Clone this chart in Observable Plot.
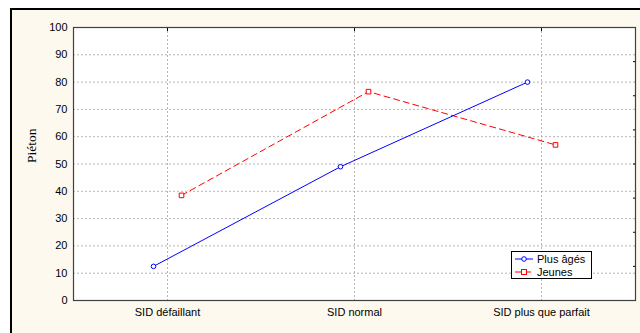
<!DOCTYPE html>
<html>
<head>
<meta charset="utf-8">
<script src="https://cdn.jsdelivr.net/npm/d3@7"></script>
<script src="https://cdn.jsdelivr.net/npm/@observablehq/plot@0.6"></script>
<style>
  html, body { margin: 0; padding: 0; background: #fff; overflow: hidden; }
  #wrap { position: relative; width: 640px; height: 333px; overflow: hidden; }
  #bg { position: absolute; left: 10px; top: 8px; width: 700px; height: 400px;
        border-top: 2px solid #000; border-left: 2px solid #000; background: #fdf9ee; }
  #chart { position: absolute; left: 0; top: 0; }
  #legend { position: absolute; left: 511px; top: 251px; width: 81px; height: 28px;
            border: 1px solid #000; background: #fff; font: 11px "Liberation Sans", Arial, sans-serif;
            box-sizing: border-box; padding: 1px 0 0 3px; }
  #legend div { height: 12.5px; line-height: 12.5px; display: flex; align-items: center; white-space: nowrap; }
  #legend svg { margin-right: 4px; }
</style>
</head>
<body>
<div id="wrap">
  <div id="bg"></div>
  <div id="chart"></div>
  <div id="legend"></div>
</div>
<script>
const categories = ["SID défaillant", "SID normal", "SID plus que parfait"];
const plusAges = [12.5, 49, 80];
const jeunes = [38.5, 76.5, 57];
const seriesNames = ["Plus âgés", "Jeunes"];
const seriesColors = ["#0000ff", "#ff0000"];
const yTicks = [0, 10, 20, 30, 40, 50, 60, 70, 80, 90, 100];
const rightTicks = [12.5, 25, 37.5, 50, 62.5, 75, 87.5];
const yLabel = "Piéton";

const rowsA = categories.map((c, i) => ({cat: c, v: plusAges[i]}));
const rowsJ = categories.map((c, i) => ({cat: c, v: jeunes[i]}));

const chart = Plot.plot({
  width: 640,
  height: 333,
  marginLeft: 73,
  marginTop: 27,
  marginRight: 5,
  marginBottom: 33,
  style: {background: "transparent", fontFamily: "'Liberation Sans', Arial, sans-serif", fontSize: "11px", color: "#000"},
  x: {type: "point", domain: categories, padding: 0.5},
  y: {domain: [0, 100]},
  marks: [
    Plot.frame({fill: "white", stroke: null}),
    Plot.gridY(yTicks.filter(d => d > 0 && d < 100), {stroke: "#b4b4b4", strokeOpacity: 1, strokeDasharray: "2,2"}),
    Plot.gridX(categories, {stroke: "#b4b4b4", strokeOpacity: 1, strokeDasharray: "2,2"}),
    Plot.axisY(yTicks, {tickSize: 0, tickPadding: 6, label: null}),
    Plot.axisY(rightTicks, {anchor: "right", tickSize: -3, tickFormat: () => "", label: null, stroke: "#000"}),
    Plot.axisX({tickSize: 0, tickPadding: 8, label: null}),
    Plot.axisX(categories, {anchor: "top", tickSize: -3, tickFormat: () => "", label: null, stroke: "#000"}),
    Plot.text([yLabel], {frameAnchor: "left", rotate: -90, dx: -41.5, dy: -1, fontFamily: "'Liberation Serif', 'Times New Roman', serif", fontSize: 13.5, fontWeight: "normal"}),
    Plot.line(rowsJ, {x: "cat", y: "v", stroke: seriesColors[1], strokeWidth: 1, strokeDasharray: "6,4", dx: 14}),
    Plot.dot(rowsJ, {x: "cat", y: "v", stroke: seriesColors[1], fill: "white", symbol: "square", r: 2.6, strokeWidth: 1, dx: 14}),
    Plot.line(rowsA, {x: "cat", y: "v", stroke: seriesColors[0], strokeWidth: 1, dx: -14}),
    Plot.dot(rowsA, {x: "cat", y: "v", stroke: seriesColors[0], fill: "white", symbol: "circle", r: 2.3, strokeWidth: 1, dx: -14}),
    Plot.frame({stroke: "#404040", strokeWidth: 1.2})
  ]
});
document.getElementById("chart").appendChild(chart);

const legend = document.getElementById("legend");
seriesNames.forEach((name, i) => {
  const row = document.createElement("div");
  const sym = i === 0
    ? `<circle cx="9" cy="5" r="2.3" fill="white" stroke="${seriesColors[i]}"/>`
    : `<rect x="6.5" y="2.5" width="5" height="5" fill="white" stroke="${seriesColors[i]}"/>`;
  const dash = i === 0 ? "" : `stroke-dasharray="6,4"`;
  row.innerHTML = `<svg width="18" height="10"><line x1="0" x2="18" y1="5" y2="5" stroke="${seriesColors[i]}" ${dash}/>${sym}</svg><span>${name}</span>`;
  legend.appendChild(row);
});
</script>
</body>
</html>
